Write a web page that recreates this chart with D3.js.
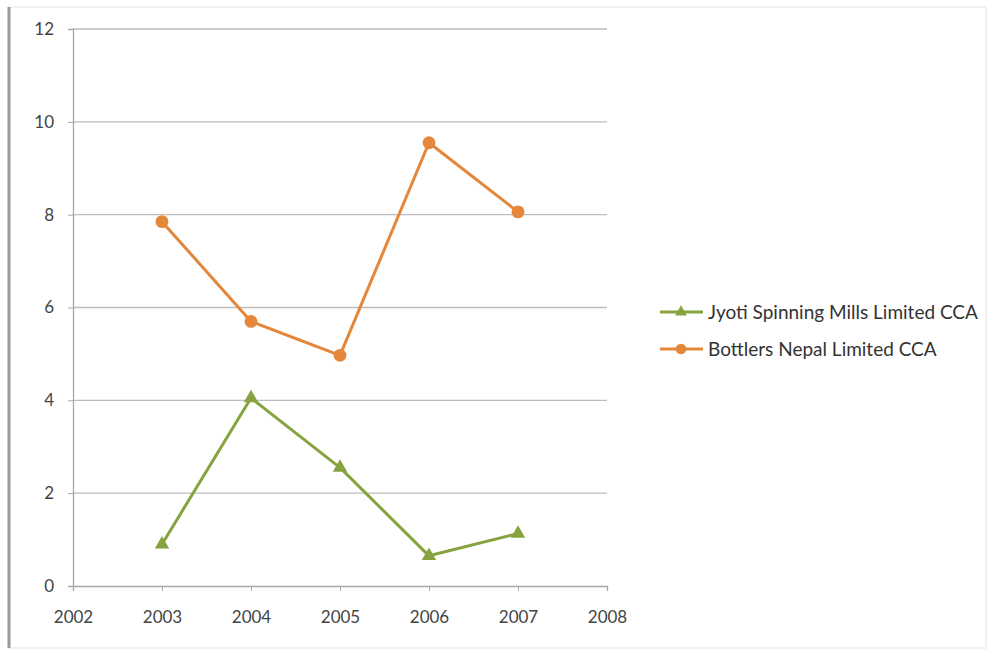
<!DOCTYPE html>
<html><head><meta charset="utf-8">
<script src="https://cdn.jsdelivr.net/npm/d3@7"></script>
<style>body{margin:0;background:#fff;}svg{display:block;font-family:Lato,"Open Sans",sans-serif;}</style>
</head><body><svg id="c" width="992" height="652"></svg>
<script>
const years = [2003, 2004, 2005, 2006, 2007];
const xTicks = [2002, 2003, 2004, 2005, 2006, 2007, 2008];
const yTicks = [0, 2, 4, 6, 8, 10, 12];
const seriesNames = ["Jyoti Spinning Mills Limited CCA", "Bottlers Nepal Limited CCA"];
const jyoti = [0.9, 4.05, 2.55, 0.65, 1.13];
const bottlers = [7.85, 5.7, 4.97, 9.55, 8.06];
const colors = ["#86A33F", "#E4873A"];

const svg = d3.select("#c");
// frame
svg.append("rect").attr("x",9).attr("y",7).attr("width",977).attr("height",641)
  .attr("fill","#fff").attr("stroke","#e2e2e2").attr("stroke-width",1);
svg.append("line").attr("x1",9).attr("x2",9).attr("y1",7).attr("y2",648)
  .attr("stroke","#9a9a9a").attr("stroke-width",3);

const x = d3.scaleLinear().domain([2002,2008]).range([73,607]);
const y = d3.scaleLinear().domain([0,12]).range([586,29]);

// gridlines
svg.append("g").selectAll("line").data(yTicks.filter(d=>d>0)).join("line")
  .attr("x1",73).attr("x2",607).attr("y1",d=>y(d)).attr("y2",d=>y(d))
  .attr("stroke","#bdbdbd").attr("stroke-width",1.3);

const yAxis = svg.append("g").attr("transform","translate(73,0)")
  .call(d3.axisLeft(y).tickValues(yTicks).tickSize(5).tickPadding(14).tickFormat(d3.format("d")));
const xAxis = svg.append("g").attr("transform","translate(0,586)")
  .call(d3.axisBottom(x).tickValues(xTicks).tickSize(5).tickPadding(20).tickFormat(d3.format("d")));
[yAxis,xAxis].forEach(a=>{
  a.select(".domain").attr("stroke","#a8a8a8").attr("stroke-width",1.3);
  a.selectAll(".tick line").attr("stroke","#a8a8a8");
  a.selectAll("text").attr("fill","#444").attr("font-size",17).attr("font-family","Lato, 'Open Sans', sans-serif");
});

const line = d3.line().x((d,i)=>x(years[i])).y(d=>y(d));
const tri = d3.symbol().type(d3.symbolTriangle).size(90);
const circ = d3.symbol().type(d3.symbolCircle).size(130);

function drawSeries(vals, color, sym){
  svg.append("path").datum(vals).attr("d",line).attr("fill","none")
    .attr("stroke",color).attr("stroke-width",3).attr("stroke-linejoin","round");
  svg.append("g").selectAll("path").data(vals).join("path")
    .attr("d",sym).attr("transform",(d,i)=>`translate(${x(years[i])},${y(d)})`)
    .attr("fill",color);
}
drawSeries(jyoti, colors[0], tri);
drawSeries(bottlers, colors[1], circ);

// legend
const legY = [312, 349];
const syms = [d3.symbol().type(d3.symbolTriangle).size(60), d3.symbol().type(d3.symbolCircle).size(90)];
seriesNames.forEach((n,i)=>{
  const g = svg.append("g").attr("transform",`translate(0,${legY[i]})`);
  g.append("line").attr("x1",660).attr("x2",703).attr("y1",0).attr("y2",0)
    .attr("stroke",colors[i]).attr("stroke-width",3);
  g.append("path").attr("d",syms[i]).attr("transform","translate(681,0)").attr("fill",colors[i]);
  g.append("text").attr("x",708).attr("y",0).attr("dy","0.35em").attr("font-size",19)
    .attr("fill","#333").text(n);
});
</script></body></html>
